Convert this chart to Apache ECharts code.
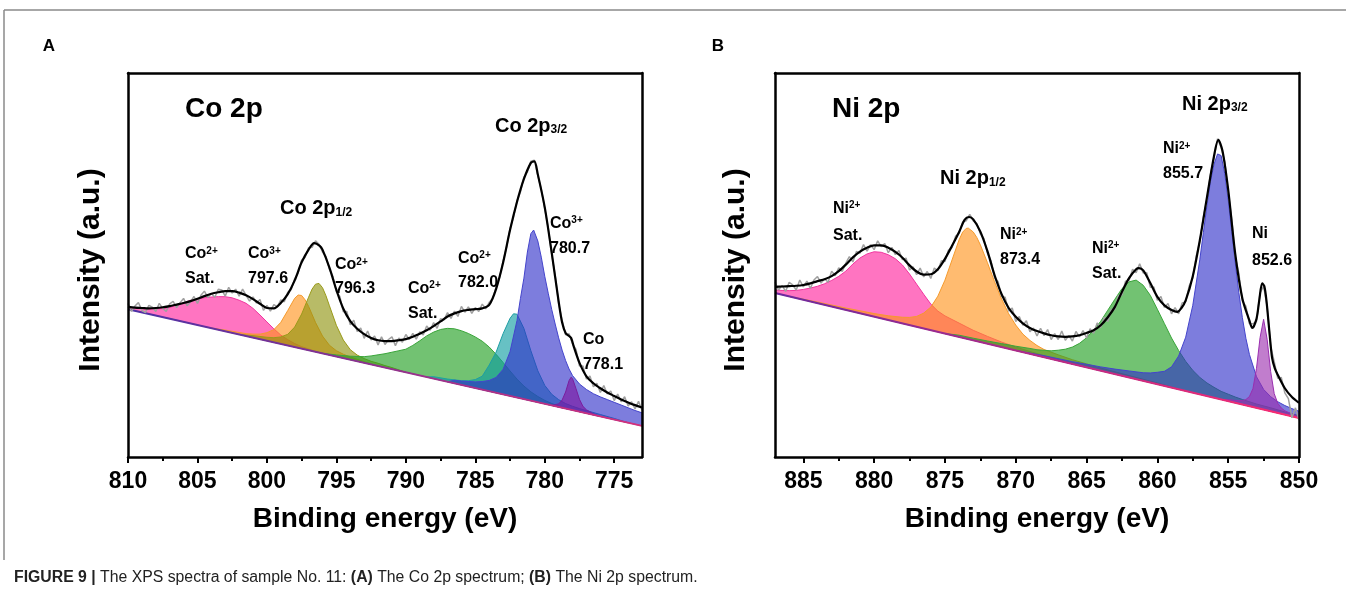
<!DOCTYPE html>
<html><head><meta charset="utf-8">
<script src="https://cdn.jsdelivr.net/npm/echarts@6/dist/echarts.min.js"></script>
<style>html,body{margin:0;padding:0;background:#fff;}#c{width:1346px;height:608px;}</style>
</head><body><div id="c"></div>
<script>
// ---------------- DATA ----------------
const coTicks = [775, 780, 785, 790, 795, 800, 805, 810];
const coMinor = [777.5, 782.5, 787.5, 792.5, 797.5, 802.5, 807.5];
const niTicks = [850, 855, 860, 865, 870, 875, 880, 885];
const niMinor = [852.5, 857.5, 862.5, 867.5, 872.5, 877.5, 882.5];

const coBaseline = [[810, 38.5], [773, 8.1]];
const niBaseline = [[887, 42.7], [850, 10.16]];

const coPink = [[810,38.50],[810,39.10],[809.5,38.89],[809,38.68],[808.5,38.57],[808,38.56],[807.5,38.65],[807,38.93],[806.5,39.52],[806,40.21],[805.5,40.80],[805,41.09],[804.5,41.48],[804,41.67],[803.5,41.76],[803,41.75],[802.5,41.44],[802,40.83],[801.5,40.02],[801,38.70],[800.5,36.99],[800,35.18],[799.5,33.37],[799,31.76],[798.5,30.55],[798,29.54],[797.5,28.73],[797,28.12],[796.5,27.51],[796,27.00]];
const coOrange = [[804,33.57],[803,33.05],[802.5,32.74],[802,32.43],[801.5,32.12],[801,32.00],[800.5,31.99],[800,32.38],[799.5,33.17],[799,35.06],[798.5,38.15],[798,41.34],[797.75,42.18],[797.5,42.06],[797.25,40.92],[797,39.22],[796.5,35.01],[796,31.50],[795.5,29.09],[795,27.68],[794.5,26.76],[794,26.05],[793.5,25.44],[793,24.83],[792,23.71]];
const coOlive = [[802,31.93],[801,31.60],[800.5,31.39],[800,31.18],[799.5,31.07],[799,31.26],[798.5,31.95],[798,33.84],[797.5,37.23],[797,41.62],[796.75,43.72],[796.5,45.01],[796.25,45.20],[796,44.10],[795.75,41.99],[795.5,39.39],[795,34.28],[794.5,30.46],[794,27.95],[793.5,26.54],[793,25.63],[792.5,24.92],[792,24.41],[791.5,23.80],[791,23.29],[790,22.07]];
const coGreen = [[796,27.00],[795,26.58],[794,26.25],[793,26.13],[792.5,26.32],[792,26.61],[791.5,26.90],[791,27.29],[790.5,27.68],[790,28.07],[789.5,29.06],[789,30.25],[788.5,31.54],[788,32.52],[787.5,33.21],[787,33.50],[786.5,33.39],[786,32.88],[785.5,32.17],[785,31.26],[784.5,30.15],[784,28.64],[783.5,26.73],[783,24.62],[782.5,22.41],[782,20.29],[781.5,18.48],[781,16.97],[780.5,15.76],[780,14.75],[779.5,13.94],[779,13.23],[778.5,12.62]];
const coTeal = [[788.5,20.84],[788,20.92],[787,20.30],[786.5,20.09],[786,19.88],[785.5,19.87],[785,20.16],[784.5,21.05],[784,23.94],[783.5,27.33],[783,32.12],[782.5,36.11],[782.25,37.30],[782,37.19],[781.5,33.48],[781,27.67],[780.5,22.46],[780,18.65],[779.5,16.34],[779,14.93],[778.5,13.92],[778,13.21],[777.5,12.60],[777,12.09],[776,11.06],[775,10.04],[774,8.92]];
const coBlue = [[787,19.60],[786.5,19.99],[786,19.78],[785.5,19.67],[785,19.56],[784.5,19.65],[784,19.94],[783.5,20.73],[783,22.82],[782.5,27.41],[782,35.49],[781.75,41.29],[781.5,46.58],[781.25,53.38],[781,58.17],[780.8,59.11],[780.5,56.26],[780.25,52.05],[780,47.05],[779.75,42.65],[779.5,38.44],[779.25,34.63],[779,31.03],[778.75,27.83],[778.5,25.12],[778.25,22.91],[778,21.21],[777.5,19.00],[777,17.59],[776.5,16.48],[776,15.66],[775.5,14.95],[775,14.24],[774.5,13.53],[774,12.82],[773.5,12.11],[773,11.50],[773,8.10]];
const coPurple = [[779.5,13.44],[779,13.83],[778.75,14.83],[778.5,16.92],[778.25,19.91],[778.1,20.79],[778,20.41],[777.75,17.80],[777.5,15.00],[777.25,13.19],[777,12.29],[776.5,11.28],[776,10.56]];
const coEnvelope = [[810,39.1],[809.5,38.9],[809,38.8],[808.5,38.7],[808,38.8],[807.5,39.0],[807,39.3],[806.5,39.7],[806,40.1],[805.5,40.6],[805,41.2],[804.5,41.9],[804,42.5],[803.5,42.9],[803,43.2],[802.5,43.2],[802,42.8],[801.5,42.1],[801,41.1],[800.5,39.9],[800,38.8],[799.5,38.7],[799,40.1],[798.5,42.4],[798,46.0],[797.5,50.7],[797,54.0],[796.6,55.7],[796.2,55.0],[796,54.0],[795.5,49.3],[795,43.5],[794.5,38.6],[794,35.4],[793.5,33.4],[793,32.0],[792.5,31.0],[792,30.4],[791.5,30.2],[791,30.2],[790.5,30.4],[790,30.7],[789.5,31.3],[789,32.1],[788.5,33.0],[788,34.1],[787.5,35.3],[787,36.6],[786.5,37.4],[786,38.0],[785.5,38.3],[785,38.5],[784.5,38.7],[784,39.6],[783.5,43.8],[783,50.6],[782.5,59.1],[782,66.4],[781.5,72.4],[781,76.6],[780.75,77.0],[780.5,73.6],[780,65.0],[779.5,53.2],[779,40.5],[778.75,35.0],[778.5,32.3],[778.25,31.5],[778.1,31.0],[777.9,28.6],[777.5,24.5],[777,21.0],[776.5,19.2],[776,17.9],[775.5,16.8],[775,15.9],[774.5,15.0],[774,14.2],[773.5,13.5],[773,12.9]];
const coRaw = [[810,40.0],[809.75,37.9],[809.5,39.3],[809.25,40.2],[809,38.2],[808.75,37.6],[808.5,39.5],[808.25,39.0],[808,37.9],[807.75,40.0],[807.5,38.7],[807.25,37.9],[807,39.9],[806.75,40.5],[806.5,38.9],[806.25,40.2],[806,41.3],[805.75,39.4],[805.5,40.4],[805.25,41.8],[805,40.0],[804.75,42.1],[804.5,43.2],[804.25,41.5],[804,42.6],[803.75,41.6],[803.5,43.7],[803.25,43.5],[803,41.9],[802.75,44.2],[802.5,42.7],[802.25,43.7],[802,41.9],[801.75,43.7],[801.5,42.1],[801.25,40.6],[801,41.7],[800.75,40.1],[800.5,41.0],[800.25,38.2],[800,39.5],[799.75,38.0],[799.5,39.7],[799.25,39.1],[799,40.9],[798.75,40.4],[798.5,42.9],[798.25,43.6],[798,46.4],[797.75,47.9],[797.5,51.3],[797.25,52.0],[797,54.5],[796.75,54.6],[796.5,56.3],[796.25,55.4],[796,53.4],[795.75,52.2],[795.5,48.9],[795.25,47.0],[795,43.0],[794.75,41.8],[794.5,37.8],[794.25,37.9],[794,34.4],[793.75,35.6],[793.5,32.7],[793.25,33.6],[793,30.9],[792.75,32.8],[792.5,30.5],[792.25,31.5],[792,29.2],[791.75,31.3],[791.5,29.3],[791.25,30.6],[791,31.3],[790.75,29.0],[790.5,31.0],[790.25,29.9],[790,31.9],[789.75,30.6],[789.5,32.2],[789.25,30.7],[789,32.6],[788.75,31.8],[788.5,34.1],[788.25,33.0],[788,35.0],[787.75,33.5],[787.5,36.0],[787.25,35.7],[787,37.6],[786.75,36.1],[786.5,38.0],[786.25,36.6],[786,39.2],[785.75,37.7],[785.5,39.1],[785.25,37.4],[785,38.9],[784.75,37.9],[784.5,39.8],[784.25,38.6],[784,40.3],[783.75,41.2],[783.5,44.3],[783.25,46.8],[783,51.0],[782.75,54.6],[782.5,59.5],[782.25,62.4],[782,66.7],[781.75,69.0],[781.5,72.9],[781.25,74.2],[781,77.0],[780.75,77.3],[780.5,73.3],[780.25,69.7],[780,64.6],[779.75,59.6],[779.5,52.8],[779.25,47.3],[779,40.0],[778.75,35.6],[778.5,31.8],[778.25,32.1],[778,29.4],[777.75,28.0],[777.5,23.7],[777.25,23.7],[777,20.3],[776.75,21.1],[776.5,18.3],[776.25,19.2],[776,16.8],[775.75,18.6],[775.5,16.4],[775.25,17.2],[775,14.7],[774.75,16.4],[774.5,14.4],[774.25,15.7],[774,13.3],[773.75,14.4],[773.5,12.5],[773.25,14.5],[773,12.2]];

const niPink = [[887,42.70],[887,43.50],[886.5,43.36],[886,43.32],[885.5,43.38],[885,43.64],[884.5,44.00],[884,44.46],[883.5,45.12],[883,45.98],[882.5,47.04],[882,48.40],[881.5,50.26],[881,51.82],[880.5,52.88],[880,53.45],[879.5,53.31],[879,52.67],[878.5,51.63],[878,49.99],[877.5,47.65],[877,45.01],[876.5,42.37],[876,39.83],[875.5,37.99],[875,36.75],[874.5,35.81],[874,34.87],[873.5,33.93],[873,32.99],[872,31.41],[871,29.93],[870,28.65],[869,27.47],[868,26.39],[867,25.31],[866,24.23]];
const niOrange = [[886,41.82],[884,40.36],[882,38.80],[880,37.35],[879,36.77],[878,36.39],[877.5,36.35],[877,36.61],[876.5,37.47],[876,39.03],[875.5,41.89],[875,46.05],[874.5,51.31],[874,56.57],[873.75,58.55],[873.5,59.53],[873.35,59.60],[873,58.59],[872.75,57.17],[872.5,55.25],[872,50.61],[871.5,45.67],[871,41.13],[870.5,37.29],[870,34.35],[869.5,32.01],[869,30.37],[868.5,29.03],[868,27.99],[867,26.61],[866,25.33],[865,24.25],[864,23.17],[862,21.21],[860,19.26],[858,17.20]];
const niGreen = [[875,32.15],[874,31.72],[873,30.94],[872,30.21],[871,29.53],[870,28.85],[869,28.27],[868.5,27.93],[868,27.79],[867.5,27.65],[867,27.81],[866.5,28.07],[866,28.63],[865.5,29.59],[865,31.05],[864.5,33.01],[864,35.37],[863.5,38.23],[863,41.09],[862.5,43.85],[862,45.61],[861.5,46.07],[861,44.73],[860.5,42.09],[860,38.46],[859.5,34.72],[859,30.98],[858.5,27.74],[858,24.90],[857.5,22.56],[857,20.72],[856.5,19.28],[856,18.14],[855.5,17.10],[855,16.36],[854.5,15.62],[854,14.98],[853,13.80],[852,12.82],[851,11.74],[850,10.76],[850,10.16]];
const niBlue = [[870,27.75],[868,26.39],[866,24.83],[865,24.15],[864,23.47],[863,22.89],[862,22.41],[861,21.94],[860.5,21.89],[860,22.06],[859.5,22.32],[859,23.48],[858.5,26.30],[858,31.20],[857.5,39.50],[857,51.50],[856.75,58.50],[856.5,65.50],[856.25,71.80],[856,76.24],[855.75,78.92],[855.5,78.50],[855.25,73.90],[855,67.00],[854.75,58.70],[854.5,50.50],[854.25,42.90],[854,36.30],[853.75,30.90],[853.5,26.70],[853,20.90],[852.5,17.60],[852,15.70],[851.5,14.40],[851,13.40],[850.5,12.60],[850,11.90],[850,10.16]];
const niPurple = [[855.5,15.00],[855,14.96],[854.5,14.72],[854,14.68],[853.75,14.96],[853.5,15.74],[853.25,17.82],[853,23.10],[852.75,31.08],[852.5,35.86],[852.25,30.64],[852,22.22],[851.75,16.50],[851.5,13.98],[851.25,12.76],[851,12.04],[850.5,11.20],[850,10.56],[850,10.16]];
const niEnvelope = [[887,44.3],[886.5,44.4],[886,44.5],[885.5,44.6],[885,44.8],[884.5,45.2],[884,45.8],[883.5,46.3],[883,47.1],[882.5,48.4],[882,50.1],[881.5,52.0],[881,53.5],[880.5,54.5],[880,55.1],[879.5,55.1],[879,54.5],[878.5,53.4],[878,51.9],[877.5,49.9],[877,48.3],[876.5,47.5],[876,47.6],[875.5,48.9],[875,51.6],[874.5,55.0],[874,58.6],[873.6,61.8],[873.3,62.5],[873,61.9],[872.5,58.7],[872,53.6],[871.5,47.4],[871,42.4],[870.5,38.8],[870,36.5],[869.5,34.8],[869,33.6],[868.5,32.8],[868,32.2],[867.5,31.7],[867,31.4],[866.5,31.3],[866,31.4],[865.5,31.7],[865,32.3],[864.5,33.0],[864,34.3],[863.5,36.4],[863,39.1],[862.5,43.0],[862,46.6],[861.5,48.9],[861.3,49.2],[861,48.6],[860.5,45.3],[860,41.7],[859.5,39.5],[859,38.3],[858.6,37.8],[858.3,38.8],[858,40.8],[857.5,47.1],[857,56.5],[856.5,67.6],[856,78.4],[855.7,82.6],[855.4,79.7],[855,69.6],[854.5,52.8],[854,41.3],[853.5,35.5],[853.3,33.6],[853,36.0],[852.8,41.0],[852.6,45.2],[852.45,44.5],[852.3,40.8],[852.1,33.0],[851.9,25.8],[851.7,23.0],[851.5,21.4],[851,17.9],[850.5,15.6],[850,14.1]];
const niRaw = [[887,45.5],[886.75,43.5],[886.5,44.7],[886.25,43.1],[886,45.5],[885.75,44.8],[885.5,43.5],[885.25,46.1],[885,44.3],[884.75,45.8],[884.5,43.9],[884.25,46.1],[884,47.0],[883.75,45.3],[883.5,46.4],[883.25,45.5],[883,48.4],[882.75,47.2],[882.5,49.3],[882.25,48.3],[882,50.5],[881.75,52.2],[881.5,50.8],[881.25,53.5],[881,53.1],[880.75,55.3],[880.5,53.6],[880.25,55.3],[880,54.0],[879.75,56.3],[879.5,54.8],[879.25,55.6],[879,53.2],[878.75,54.6],[878.5,52.7],[878.25,53.8],[878,51.4],[877.75,51.8],[877.5,48.7],[877.25,49.5],[877,47.5],[876.75,49.2],[876.5,46.9],[876.25,48.3],[876,46.5],[875.75,49.2],[875.5,48.5],[875.25,51.1],[875,50.9],[874.75,53.9],[874.5,54.5],[874.25,57.5],[874,58.2],[873.75,61.2],[873.5,61.5],[873.25,63.2],[873,61.5],[872.75,60.8],[872.5,58.1],[872.25,56.9],[872,53.1],[871.75,51.1],[871.5,46.7],[871.25,45.7],[871,41.8],[870.75,41.6],[870.5,38.0],[870.25,38.8],[870,35.3],[869.75,36.6],[869.5,34.3],[869.25,35.5],[869,32.6],[868.75,33.6],[868.5,31.5],[868.25,33.5],[868,31.6],[867.75,33.2],[867.5,30.6],[867.25,32.1],[867,30.6],[866.75,32.8],[866.5,30.4],[866.25,31.6],[866,30.2],[865.75,32.7],[865.5,31.3],[865.25,32.9],[865,31.0],[864.75,33.4],[864.5,32.2],[864.25,34.9],[864,33.7],[863.75,36.4],[863.5,35.3],[863.25,38.4],[863,38.4],[862.75,42.0],[862.5,42.2],[862.25,45.8],[862,46.0],[861.75,48.9],[861.5,48.0],[861.25,50.3],[861,47.9],[860.75,48.0],[860.5,44.2],[860.25,44.3],[860,40.8],[859.75,41.8],[859.5,38.9],[859.25,40.0],[859,37.3],[858.75,38.9],[858.5,37.3],[858.25,40.1],[858,40.4],[857.75,44.6],[857.5,46.6],[857.25,52.4],[857,56.1],[856.75,62.6],[856.5,67.1],[856.25,73.6],[856,78.0],[855.75,82.9],[855.5,80.6],[855.25,77.0],[855,69.0],[854.75,61.9],[854.5,52.2],[854.25,47.9],[854,40.6],[853.75,39.3],[853.5,34.7],[853.25,34.7],[853,35.4],[852.75,42.7],[852.5,44.5],[852.25,39.2],[852,28.8],[851.75,24.8],[851.5,20.5],[851.25,20.7],[851,16.7],[850.75,15.2],[850.5,10.2],[850.25,12.8],[850,9.6]];

const coLabels = [['Co','2+','Sat.'],['Co','3+','797.6'],['Co','2+','796.3'],['Co','2+','Sat.'],['Co','2+','782.0'],['Co','3+','780.7'],['Co','','778.1']];
const niLabels = [['Ni','2+','Sat.'],['Ni','2+','873.4'],['Ni','2+','Sat.'],['Ni','2+','855.7'],['Ni','','852.6']];

// ---------------- LAYOUT / STYLE ----------------
const FONT = '"Liberation Sans", Arial, Helvetica, sans-serif';
const chart = echarts.init(document.getElementById('c'), null, {renderer: 'canvas', width: 1346, height: 608});

const rectA = {left: 128, top: 73, width: 514, height: 384, outerBoundsMode: 'none'};
const rectB = {left: 775, top: 73, width: 524, height: 384, outerBoundsMode: 'none'};

function xMain(g, min, max, ticks) {
  return {type: 'value', gridIndex: g, min: min, max: max, inverse: true, position: 'bottom', z: 10,
    axisLine: {show: true, onZero: false, lineStyle: {color: '#000', width: 2.5}},
    axisTick: {show: true, inside: false, length: 6, customValues: ticks, lineStyle: {color: '#000', width: 2}},
    axisLabel: {show: true, customValues: ticks, margin: 13, color: '#000', fontSize: 23, fontWeight: 'bold', fontFamily: FONT},
    splitLine: {show: false}};
}
function xTop(g, min, max) {
  return {type: 'value', gridIndex: g, min: min, max: max, inverse: true, position: 'top', z: 10,
    axisLine: {show: true, onZero: false, lineStyle: {color: '#000', width: 2.5}},
    axisTick: {show: false}, axisLabel: {show: false}, splitLine: {show: false}};
}
function xMinor(g, min, max, ticks) {
  return {type: 'value', gridIndex: g, min: min, max: max, inverse: true, position: 'bottom', z: 10,
    axisLine: {show: false, onZero: false},
    axisTick: {show: true, inside: false, length: 4, customValues: ticks, lineStyle: {color: '#000', width: 2}},
    axisLabel: {show: false}, splitLine: {show: false}};
}
function yAx(g, pos, show) {
  return {type: 'value', gridIndex: g, min: 0, max: 100, position: pos, show: show, z: 10,
    axisLine: {show: true, onZero: false, lineStyle: {color: '#000', width: 2.5}},
    axisTick: {show: false}, axisLabel: {show: false}, splitLine: {show: false}};
}

function poly(xi, pts, fill, stroke) {
  return {type: 'custom', xAxisIndex: xi, yAxisIndex: xi, silent: true, z: 2, clip: true,
    data: [pts[0]],
    renderItem: function (params, api) {
      return {type: 'polygon', shape: {points: pts.map(function (p) { return api.coord(p); })},
        style: {fill: fill, stroke: stroke, lineWidth: 1, lineJoin: 'round'}};
    }};
}
function line(xi, data, color, width, smooth, z) {
  return {type: 'line', xAxisIndex: xi, yAxisIndex: xi, data: data, symbol: 'none', showSymbol: false,
    smooth: smooth, silent: true, z: z, lineStyle: {color: color, width: width}, clip: true};
}
function grad(c1, c2) {
  return new echarts.graphic.LinearGradient(0, 0, 1, 0, [{offset: 0, color: c1}, {offset: 1, color: c2}]);
}

const C = {
  pink: ['rgba(255,30,155,0.62)', '#f2349f'],
  orange: ['rgba(255,145,25,0.62)', '#f59a2c'],
  olive: ['rgba(140,145,10,0.62)', '#9a9a1a'],
  green: ['rgba(35,160,35,0.64)', '#3aa53a'],
  teal: ['rgba(10,155,160,0.62)', '#1e9ea4'],
  blue: ['rgba(45,45,200,0.62)', '#4444cc'],
  purple: ['rgba(125,20,160,0.62)', '#7a1e9e'],
  violet: ['rgba(155,45,175,0.62)', '#9a2eb0']
};

const series = [
  poly(0, coPink, C.pink[0], C.pink[1]),
  poly(0, coOrange, C.orange[0], C.orange[1]),
  poly(0, coOlive, C.olive[0], C.olive[1]),
  poly(0, coGreen, C.green[0], C.green[1]),
  poly(0, coTeal, C.teal[0], C.teal[1]),
  poly(0, coBlue, C.blue[0], C.blue[1]),
  poly(0, coPurple, C.purple[0], C.purple[1]),
  line(0, coBaseline, grad('#4b32a6', '#d8307a'), 2, false, 3),
  line(0, coRaw, '#a0a0a0', 1.5, false, 4),
  line(0, coEnvelope, '#000', 2.2, 0.3, 5),

  poly(2, niPink, C.pink[0], C.pink[1]),
  poly(2, niOrange, C.orange[0], C.orange[1]),
  poly(2, niGreen, C.green[0], C.green[1]),
  poly(2, niBlue, C.blue[0], C.blue[1]),
  poly(2, niPurple, C.violet[0], C.violet[1]),
  line(2, niBaseline, grad('#6a2aa0', '#ff2a70'), 2, false, 3),
  line(2, niRaw, '#a0a0a0', 1.5, false, 4),
  line(2, niEnvelope, '#000', 2.2, 0.3, 5)
];

// ---------------- TEXT ----------------
function T(x, y, text, size, style, extra) {
  return Object.assign({type: 'text', x: x, y: y, silent: true, z: 100,
    style: Object.assign({text: text, fontSize: size, fontWeight: 'bold', fontFamily: FONT, fill: '#000',
      align: 'left', verticalAlign: 'middle'}, style || {})}, extra || {});
}
const richSup = {
  m: {fontSize: 16, fontWeight: 'bold', fontFamily: FONT, fill: '#000', lineHeight: 16, verticalAlign: 'top'},
  s: {fontSize: 10, fontWeight: 'bold', fontFamily: FONT, fill: '#000', lineHeight: 10, verticalAlign: 'top'}
};
const richSub = {
  m: {fontSize: 20, fontWeight: 'bold', fontFamily: FONT, fill: '#000', lineHeight: 20, verticalAlign: 'top'},
  s: {fontSize: 12, fontWeight: 'bold', fontFamily: FONT, fill: '#000', lineHeight: 12, verticalAlign: 'bottom', padding: [13, 0, 0, 0]}
};
function peakLabel(lab, x, y1, y2) {
  const t1 = lab[1] ? '{m|' + lab[0] + '}{s|' + lab[1] + '}' : '{m|' + lab[0] + '}';
  return [
    T(x, y1 - 8, t1, 16, {rich: richSup, verticalAlign: 'top'}),
    T(x, y2, lab[2], 16)
  ];
}
function subLabel(x, yc, main, sub) {
  return T(x, yc - 10, '{m|' + main + '}{s|' + sub + '}', 20, {rich: richSub, verticalAlign: 'top'});
}

const coPos = [[185, 254, 279], [248, 254, 279], [335, 265, 289], [408, 288.5, 313.5], [458, 258.5, 282.5], [550, 223.5, 248.5], [583, 340, 365]];
const niPos = [[833, 208.5, 236], [1000, 235, 260], [1092, 248.5, 273.5], [1163, 149, 173.5], [1252, 234, 261]];

let g = [
  {type: 'line', silent: true, z: 100, shape: {x1: 4, y1: 10, x2: 1346, y2: 10}, style: {stroke: '#8a8a8a', lineWidth: 1.5}},
  {type: 'line', silent: true, z: 100, shape: {x1: 4, y1: 10, x2: 4, y2: 560}, style: {stroke: '#8a8a8a', lineWidth: 1.5}},
  T(49, 46, 'A', 17, {align: 'center'}),
  T(718, 46, 'B', 17, {align: 'center'}),
  T(185, 109, 'Co 2p', 28),
  T(832, 109, 'Ni 2p', 28),
  subLabel(280, 208.5, 'Co 2p', '1/2'),
  subLabel(495, 126, 'Co 2p', '3/2'),
  subLabel(940, 178.5, 'Ni 2p', '1/2'),
  subLabel(1182, 104, 'Ni 2p', '3/2'),
  T(385, 519, 'Binding energy (eV)', 28, {align: 'center'}),
  T(1037, 519, 'Binding energy (eV)', 28, {align: 'center'}),
  T(91, 270, 'Intensity (a.u.)', 30, {align: 'center'}, {rotation: Math.PI / 2}),
  T(736, 270, 'Intensity (a.u.)', 30, {align: 'center'}, {rotation: Math.PI / 2}),
  T(14, 578, '{b|FIGURE 9 |} {n|The XPS spectra of sample No. 11: }{b|(A)}{n| The Co 2p spectrum; }{b|(B)}{n| The Ni 2p spectrum.}', 15.8, {
    rich: {
      b: {fontSize: 15.8, fontWeight: 'bold', fontFamily: FONT, fill: '#222'},
      n: {fontSize: 15.8, fontWeight: 'normal', fontFamily: FONT, fill: '#222'}
    }
  })
];
coLabels.forEach(function (lab, i) { g = g.concat(peakLabel(lab, coPos[i][0], coPos[i][1], coPos[i][2])); });
niLabels.forEach(function (lab, i) { g = g.concat(peakLabel(lab, niPos[i][0], niPos[i][1], niPos[i][2])); });

chart.setOption({
  animation: false,
  backgroundColor: '#fff',
  grid: [rectA, rectA, rectB, rectB],
  xAxis: [xMain(0, 773, 810, coTicks), xTop(0, 773, 810), xMain(2, 850, 887, niTicks), xTop(2, 850, 887),
          xMinor(1, 773, 810, coMinor), xMinor(3, 850, 887, niMinor)],
  yAxis: [yAx(0, 'left', true), yAx(0, 'right', true), yAx(2, 'left', true), yAx(2, 'right', true),
          yAx(1, 'left', false), yAx(3, 'left', false)],
  series: series,
  graphic: {elements: g}
});
</script></body></html>
